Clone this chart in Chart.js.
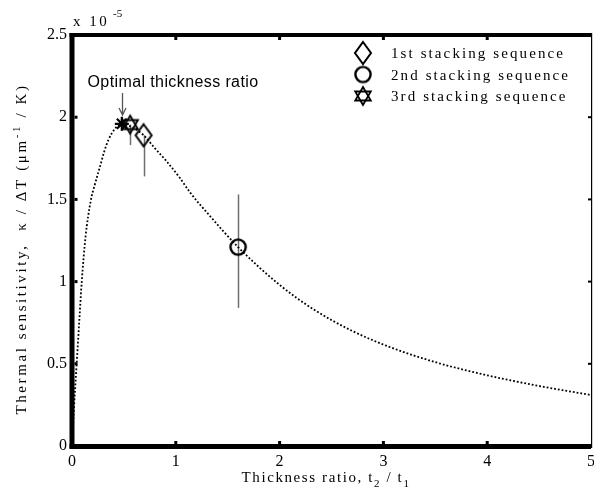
<!DOCTYPE html>
<html>
<head>
<meta charset="utf-8">
<script src="https://cdn.jsdelivr.net/npm/chart.js@4.4.0/dist/chart.umd.min.js"></script>
<style>
  html, body { margin: 0; padding: 0; background: #fff; }
  #wrap { width: 594px; height: 497px; }
</style>
</head>
<body>
<div id="wrap"><canvas id="chart" width="594" height="497"></canvas></div>
<script>
// Thermal sensitivity (x 1e-5 per um per K) against thickness ratio t2/t1
const ratio = [0, 0.02, 0.045, 0.07, 0.094, 0.13, 0.18, 0.22, 0.27, 0.31, 0.35, 0.42, 0.48, 0.56, 0.69, 0.8, 0.9, 1.04, 1.14, 1.3, 1.6, 2.0, 2.33, 2.7, 3.07, 3.5, 4.0, 4.5, 5.0];
const sensitivity = [0, 0.24, 0.5, 0.76, 1.0, 1.27, 1.49, 1.59, 1.70, 1.79, 1.86, 1.935, 1.955, 1.945, 1.89, 1.81, 1.74, 1.63, 1.54, 1.42, 1.21, 0.98, 0.83, 0.70, 0.60, 0.51, 0.43, 0.365, 0.31];

const xTicks = [0, 1, 2, 3, 4, 5];
const yTicks = [0, 0.5, 1, 1.5, 2, 2.5];

// measured stacking sequences with their error ranges
const seqLabels = ['1st stacking sequence', '2nd stacking sequence', '3rd stacking sequence'];
const seqRatio = [0.69, 1.6, 0.56];
const seqValue = [1.89, 1.21, 1.955];
const seqErrLow = [1.64, 0.84, 1.83];
const seqErrHigh = [1.89, 1.53, 1.955];

const optimalRatio = [0.48];
const optimalValue = [1.96];

const SERIF = '"Liberation Serif", "Times New Roman", serif';
const SANS = '"Liberation Sans", Arial, sans-serif';

// small canvases used as point styles
function markerCanvas(w, h, draw) {
  const c = document.createElement('canvas');
  c.width = w; c.height = h;
  const g = c.getContext('2d');
  g.strokeStyle = '#000';
  g.lineWidth = 2;
  draw(g, w / 2, h / 2);
  return c;
}
const diamondImg = markerCanvas(20, 26, (g, cx, cy) => {
  g.beginPath();
  g.moveTo(cx, cy - 11); g.lineTo(cx + 8, cy); g.lineTo(cx, cy + 11); g.lineTo(cx - 8, cy);
  g.closePath(); g.stroke();
});
const circleImg = markerCanvas(22, 22, (g, cx, cy) => {
  g.lineWidth = 2.4;
  g.beginPath(); g.arc(cx, cy, 7.6, 0, Math.PI * 2); g.stroke();
});
const hexImg = markerCanvas(24, 24, (g, cx, cy) => {
  g.lineWidth = 1.8;
  for (const rot of [-Math.PI / 2, Math.PI / 2]) {
    g.beginPath();
    for (let k = 0; k < 3; k++) {
      const a = rot + k * 2 * Math.PI / 3;
      const px = cx + 9 * Math.cos(a), py = cy + 9 * Math.sin(a);
      if (k) g.lineTo(px, py); else g.moveTo(px, py);
    }
    g.closePath(); g.stroke();
  }
});
const seqImgs = [diamondImg, circleImg, hexImg];

function pts(xs, ys) { return xs.map((x, i) => ({ x: x, y: ys[i] })); }

// text made of runs with sub/superscripts
function drawRuns(ctx, runs, x, y, spacing) {
  ctx.letterSpacing = spacing;
  let total = 0;
  for (const r of runs) { ctx.font = r.size + 'px ' + SERIF; total += ctx.measureText(r.t).width; }
  let cx = x - total / 2;
  ctx.textAlign = 'left';
  ctx.textBaseline = 'alphabetic';
  for (const r of runs) {
    ctx.font = r.size + 'px ' + SERIF;
    ctx.fillText(r.t, cx, y + (r.dy || 0));
    cx += ctx.measureText(r.t).width;
  }
  ctx.letterSpacing = '0px';
}

const decorations = {
  id: 'decorations',
  beforeDatasetsDraw(chart) {
    // vertical error bars
    const { ctx, scales: { x, y } } = chart;
    ctx.save();
    ctx.strokeStyle = '#6e6e6e';
    ctx.lineWidth = 1.5;
    seqRatio.forEach((r, i) => {
      const px = Math.round(x.getPixelForValue(r)) + 0.5;
      ctx.beginPath();
      ctx.moveTo(px, y.getPixelForValue(seqErrHigh[i]));
      ctx.lineTo(px, y.getPixelForValue(seqErrLow[i]));
      ctx.stroke();
    });
    ctx.restore();
  },
  afterDraw(chart) {
    const { ctx, chartArea: a, scales: { x, y } } = chart;
    ctx.save();
    ctx.fillStyle = '#000';
    // axes frame: heavy left, bottom and top, thin right
    ctx.fillRect(a.left - 2.5, a.top - 2, 5, a.bottom - a.top + 4.5);
    ctx.fillRect(a.left - 2.5, a.bottom - 2, a.right - a.left + 2.5, 5);
    ctx.fillRect(a.left - 2.5, a.top - 2, a.right - a.left + 2.5, 4);
    ctx.fillRect(a.right, a.top - 2, 1.2, a.bottom - a.top + 4);
    // inward tick marks
    xTicks.slice(1, -1).forEach(v => {
      const px = x.getPixelForValue(v);
      ctx.fillRect(px - 1.5, a.bottom - 5, 3, 3);
      ctx.fillRect(px - 1.5, a.top + 2, 3, 3);
    });
    yTicks.slice(1, -1).forEach(v => {
      const py = y.getPixelForValue(v);
      ctx.fillRect(a.left + 2.5, py - 1.5, 3, 3);
      ctx.fillRect(a.right - 3, py - 1, 3, 2);
    });

    // exponent above the y axis
    ctx.font = '15px ' + SERIF;
    ctx.textAlign = 'left';
    ctx.textBaseline = 'alphabetic';
    ctx.letterSpacing = '2.5px';
    ctx.fillText('x 10', a.left + 1, 26);
    ctx.letterSpacing = '0px';
    ctx.font = '11px ' + SERIF;
    ctx.fillText('-5', a.left + 41, 17);

    // axis titles
    drawRuns(ctx, [
      { t: 'Thickness ratio, t', size: 15 },
      { t: '2', size: 11, dy: 5 },
      { t: ' / t', size: 15 },
      { t: '1', size: 11, dy: 5 }
    ], 326, 482, '1.6px');

    ctx.save();
    ctx.translate(26, 249);
    ctx.rotate(-Math.PI / 2);
    drawRuns(ctx, [
      { t: 'Thermal sensitivity,  \u03ba / \u0394T (\u03bcm', size: 15 },
      { t: '-1', size: 11, dy: -6 },
      { t: ' / K)', size: 15 }
    ], 0, 0, '2.6px');
    ctx.restore();

    // legend
    seqLabels.forEach((label, i) => {
      const ly = 53 + i * 21.5;
      const img = seqImgs[i];
      ctx.drawImage(img, 363 - img.width / 2, ly - img.height / 2);
      ctx.letterSpacing = '2.1px';
      ctx.font = '15px ' + SERIF;
      ctx.textAlign = 'left';
      ctx.fillText(label, 391, ly + 5);
      ctx.letterSpacing = '0px';
    });

    // optimum annotation
    ctx.font = '16px ' + SANS;
    ctx.letterSpacing = '0.4px';
    ctx.textAlign = 'center';
    ctx.fillText('Optimal thickness ratio', 173, 87);
    ctx.letterSpacing = '0px';
    const ax = Math.round(x.getPixelForValue(optimalRatio[0])) + 0.5;
    ctx.strokeStyle = '#555';
    ctx.lineWidth = 1.3;
    ctx.beginPath();
    ctx.moveTo(ax, 93); ctx.lineTo(ax, 114);
    ctx.moveTo(ax - 3.5, 108); ctx.lineTo(ax, 115); ctx.lineTo(ax + 3.5, 108);
    ctx.stroke();
    ctx.restore();
  }
};

new Chart(document.getElementById('chart'), {
  type: 'scatter',
  data: {
    datasets: [
      {
        label: 'model',
        data: pts(ratio, sensitivity),
        showLine: true,
        borderColor: '#000',
        borderWidth: 1.8,
        borderDash: [1.8, 2],
        pointRadius: 0,
        cubicInterpolationMode: 'monotone',
        order: 5
      },
      ...seqLabels.map((label, i) => ({
        label: label,
        data: [{ x: seqRatio[i], y: seqValue[i] }],
        pointStyle: seqImgs[i],
        pointRadius: 10,
        order: 1
      })),
      {
        label: 'optimum',
        data: pts(optimalRatio, optimalValue),
        pointStyle: 'star',
        pointRadius: 7,
        borderColor: '#000',
        borderWidth: 2.2,
        order: 0
      }
    ]
  },
  options: {
    responsive: false,
    animation: false,
    devicePixelRatio: 1,
    layout: { autoPadding: false, padding: { top: 35, right: 3, left: 0, bottom: 0 } },
    plugins: { legend: { display: false }, tooltip: { enabled: false } },
    scales: {
      x: {
        type: 'linear',
        min: 0, max: 5,
        afterBuildTicks: s => { s.ticks = xTicks.map(v => ({ value: v })); },
        afterFit: s => { s.height = 51; s.paddingLeft = 0; s.paddingRight = 0; },
        grid: { display: false, drawTicks: false },
        border: { display: false },
        ticks: { color: '#000', padding: 6, font: { family: SERIF, size: 16 }, callback: v => String(v) }
      },
      y: {
        type: 'linear',
        min: 0, max: 2.5,
        afterBuildTicks: s => { s.ticks = yTicks.map(v => ({ value: v })); },
        afterFit: s => { s.width = 72; s.paddingTop = 0; s.paddingBottom = 0; },
        grid: { display: false, drawTicks: false },
        border: { display: false },
        ticks: { color: '#000', padding: 5, font: { family: SERIF, size: 16 }, callback: v => String(v) }
      }
    }
  },
  plugins: [decorations]
});
</script>
</body>
</html>
